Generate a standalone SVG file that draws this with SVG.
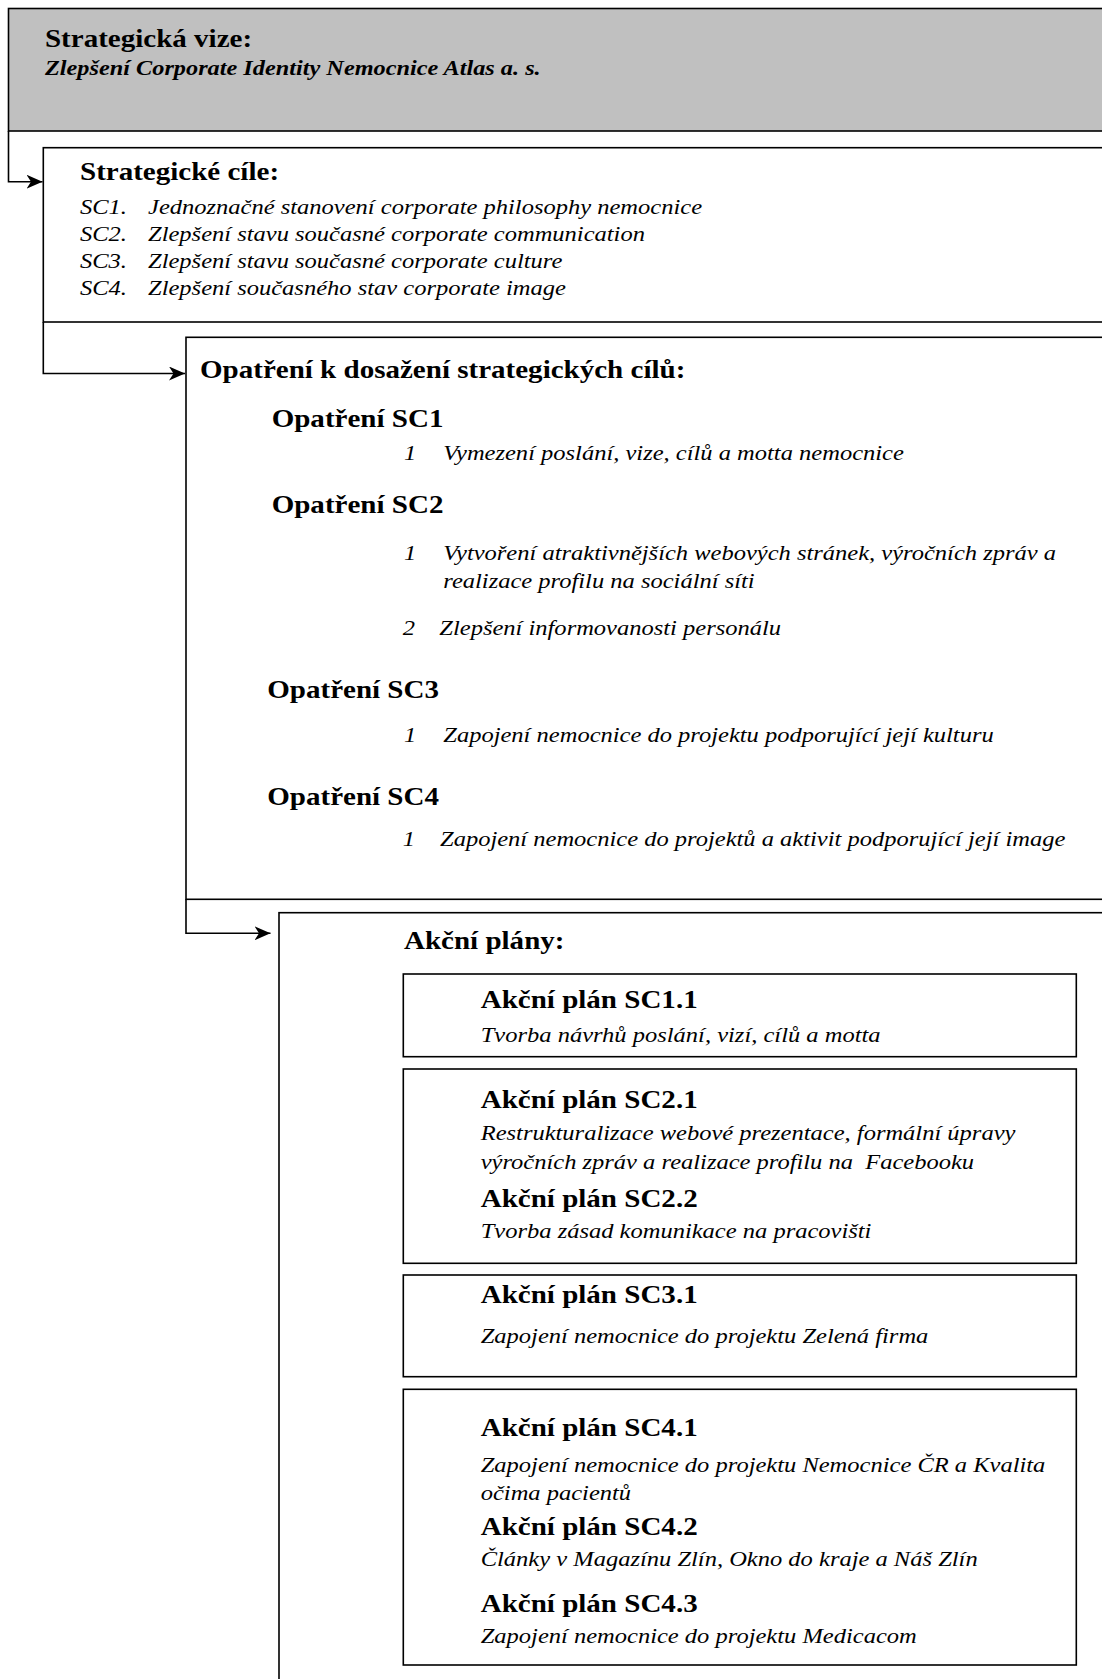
<svg xmlns="http://www.w3.org/2000/svg" width="1102" height="1679" viewBox="0 0 1102 1679">
<style>
.box{fill:#fff;stroke:#000;stroke-width:1.6}
.gray{fill:#c0c0c0;stroke:#000;stroke-width:1.6}
.conn{fill:none;stroke:#000;stroke-width:1.6}
text{font-family:"Liberation Serif","Times New Roman",serif;fill:#000}
.b{font-weight:bold;font-size:25.7px}
.i{font-style:italic;font-size:21.7px}
.bi{font-weight:bold;font-style:italic;font-size:21.5px}
</style>
<defs>
<marker id="arr" viewBox="0 0 16 14" refX="16" refY="7" markerWidth="16" markerHeight="14" markerUnits="userSpaceOnUse" orient="auto">
<path d="M0,0 L16,7 L0,14 L4.5,7 Z" fill="#000"/>
</marker>
</defs>
<rect width="1102" height="1679" fill="#fff"/>

<g id="vize">
<rect class="gray" x="8.5" y="8.5" width="1110" height="122.5"/>
<g transform="scale(1.13 1)">
<text class="b" x="39.8" y="47.5">Strategická vize:</text>
<text class="bi" x="39.8" y="75">Zlepšení Corporate Identity Nemocnice Atlas a. s.</text>
</g>
</g>

<g id="cile">
<rect class="box" x="43.3" y="147.7" width="1080" height="174.3"/>
<g transform="scale(1.13 1)">
<text class="b" x="70.8" y="180">Strategické cíle:</text>
<text class="i" x="70.8" y="214">SC1.</text><text class="i" x="131" y="214">Jednoznačné stanovení corporate philosophy nemocnice</text>
<text class="i" x="70.8" y="241">SC2.</text><text class="i" x="131" y="241">Zlepšení stavu současné corporate communication</text>
<text class="i" x="70.8" y="268">SC3.</text><text class="i" x="131" y="268">Zlepšení stavu současné corporate culture</text>
<text class="i" x="70.8" y="295">SC4.</text><text class="i" x="131" y="295">Zlepšení současného stav corporate image</text>
</g>
</g>

<g id="opatreni">
<rect class="box" x="186" y="337.3" width="940" height="562"/>
<g transform="scale(1.13 1)">
<text class="b" x="177" y="378">Opatření k dosažení strategických cílů:</text>
<text class="b" x="240.4" y="426.7">Opatření SC1</text>
<text class="i" x="357.5" y="460">1</text><text class="i" x="392.3" y="460">Vymezení poslání, vize, cílů a motta nemocnice</text>
<text class="b" x="240.4" y="513.3">Opatření SC2</text>
<text class="i" x="357.5" y="560">1</text><text class="i" x="392.3" y="560">Vytvoření atraktivnějších webových stránek, výročních zpráv a</text>
<text class="i" x="392.3" y="588.3">realizace profilu na sociální síti</text>
<text class="i" x="356.4" y="635">2</text><text class="i" x="388.8" y="635">Zlepšení informovanosti personálu</text>
<text class="b" x="236.5" y="698.3">Opatření SC3</text>
<text class="i" x="357.5" y="742">1</text><text class="i" x="392.3" y="742">Zapojení nemocnice do projektu podporující její kulturu</text>
<text class="b" x="236.5" y="805">Opatření SC4</text>
<text class="i" x="356.4" y="846">1</text><text class="i" x="389.4" y="846">Zapojení nemocnice do projektů a aktivit podporující její image</text>
</g>
</g>

<g id="akcni-plany">
<rect class="box" x="279" y="912.7" width="900" height="820"/>
<g transform="scale(1.13 1)">
<text class="b" x="357.5" y="949.3">Akční plány:</text>
</g>
</g>

<g id="ap-sc1">
<rect class="box" x="403.3" y="974" width="673" height="82.7"/>
<g transform="scale(1.13 1)">
<text class="b" x="425.4" y="1008.3">Akční plán SC1.1</text>
<text class="i" x="425.4" y="1041.7">Tvorba návrhů poslání, vizí, cílů a motta</text>
</g>
</g>

<g id="ap-sc2">
<rect class="box" x="403.3" y="1069" width="673" height="194.3"/>
<g transform="scale(1.13 1)">
<text class="b" x="425.4" y="1108.3">Akční plán SC2.1</text>
<text class="i" x="425.4" y="1140">Restrukturalizace webové prezentace, formální úpravy</text>
<text class="i" x="425.4" y="1169.3">výročních zpráv a realizace profilu na&#160; Facebooku</text>
<text class="b" x="425.4" y="1206.7">Akční plán SC2.2</text>
<text class="i" x="425.4" y="1238.3">Tvorba zásad komunikace na pracovišti</text>
</g>
</g>

<g id="ap-sc3">
<rect class="box" x="403.3" y="1275" width="673" height="101.7"/>
<g transform="scale(1.13 1)">
<text class="b" x="425.4" y="1303.3">Akční plán SC3.1</text>
<text class="i" x="425.4" y="1343.3">Zapojení nemocnice do projektu Zelená firma</text>
</g>
</g>

<g id="ap-sc4">
<rect class="box" x="403.3" y="1389.3" width="673" height="275.7"/>
<g transform="scale(1.13 1)">
<text class="b" x="425.4" y="1435.7">Akční plán SC4.1</text>
<text class="i" x="425.4" y="1471.7">Zapojení nemocnice do projektu Nemocnice ČR a Kvalita</text>
<text class="i" x="425.4" y="1500">očima pacientů</text>
<text class="b" x="425.4" y="1535">Akční plán SC4.2</text>
<text class="i" x="425.4" y="1566">Články v Magazínu Zlín, Okno do kraje a Náš Zlín</text>
<text class="b" x="425.4" y="1611.7">Akční plán SC4.3</text>
<text class="i" x="425.4" y="1643.3">Zapojení nemocnice do projektu Medicacom</text>
</g>
</g>

<g id="connectors">
<path class="conn" d="M8.5,131 V181.7 H42.5" marker-end="url(#arr)"/>
<path class="conn" d="M43.3,322 V373.5 H185" marker-end="url(#arr)"/>
<path class="conn" d="M186,899.3 V933.3 H270.5" marker-end="url(#arr)"/>
</g>
</svg>
